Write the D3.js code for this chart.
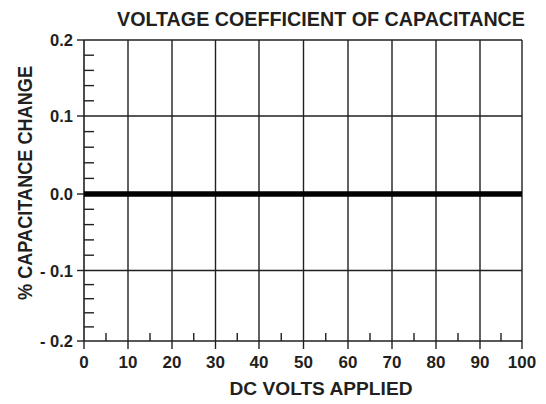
<!DOCTYPE html>
<html><head><meta charset="utf-8">
<script src="https://cdn.jsdelivr.net/npm/d3@7"></script>
<style>
html,body{margin:0;padding:0;background:#fff;}
svg{display:block;}
text{font-family:"Liberation Sans",Arial,Helvetica,sans-serif;font-weight:bold;fill:#231f20;}
</style></head>
<body>
<script>
// ---- data ----
const title = "VOLTAGE COEFFICIENT OF CAPACITANCE";
const xTitle = "DC VOLTS APPLIED";
const yTitle = "% CAPACITANCE CHANGE";
const voltage = [0, 10, 20, 30, 40, 50, 60, 70, 80, 90, 100];
const capChange = [0, 0, 0, 0, 0, 0, 0, 0, 0, 0, 0];
const xTicks = [0, 10, 20, 30, 40, 50, 60, 70, 80, 90, 100];
const xMinorTicks = [5, 15, 25, 35, 45, 55, 65, 75, 85, 95];
const yTicks = [0.2, 0.1, 0.0, -0.1, -0.2];
const yTickLabels = ["0.2", "0.1", "0.0", "- 0.1", "- 0.2"];
const yMinorTicks = [0.18,0.16,0.14,0.12,0.08,0.06,0.04,0.02,-0.02,-0.04,-0.06,-0.08,-0.12,-0.14,-0.16,-0.18];

const W = 546, H = 404;
const svg = d3.select("body").append("svg").attr("width", W).attr("height", H);
const ink = "#231f20";

const x = d3.scaleLinear()
  .domain(xTicks)
  .range([84, 128, 172, 215.5, 259, 303.5, 348, 392, 436, 480, 522]);
const y = d3.scaleLinear()
  .domain([0.2, 0.1, 0.0, -0.1, -0.2])
  .range([40, 116, 194, 270.5, 341]);

const g = svg.append("g");

// grid lines
g.selectAll(".vg").data(xTicks.filter(d => d > 0)).join("line")
  .attr("x1", d => x(d)).attr("x2", d => x(d))
  .attr("y1", y(0.2)).attr("y2", y(-0.2))
  .attr("stroke", ink).attr("stroke-width", 1.4);
g.selectAll(".hg").data(yTicks.filter(d => d > -0.2)).join("line")
  .attr("x1", x(0)).attr("x2", x(100))
  .attr("y1", d => y(d)).attr("y2", d => y(d))
  .attr("stroke", ink).attr("stroke-width", 1.4);

// axes frame
g.append("line").attr("x1", x(0)).attr("x2", x(0)).attr("y1", y(0.2)).attr("y2", y(-0.2))
  .attr("stroke", ink).attr("stroke-width", 1.6);
g.append("line").attr("x1", x(0)).attr("x2", x(100)).attr("y1", y(-0.2)).attr("y2", y(-0.2))
  .attr("stroke", ink).attr("stroke-width", 1.6);

// major ticks y (outward left)
g.selectAll(".yt").data(yTicks).join("line")
  .attr("x1", x(0) - 7).attr("x2", x(0))
  .attr("y1", d => y(d)).attr("y2", d => y(d))
  .attr("stroke", ink).attr("stroke-width", 1.4);
// minor ticks y (inward)
g.selectAll(".ymt").data(yMinorTicks).join("line")
  .attr("x1", x(0)).attr("x2", x(0) + 10)
  .attr("y1", d => y(d)).attr("y2", d => y(d))
  .attr("stroke", ink).attr("stroke-width", 1.4);
// major ticks x (outward down)
g.selectAll(".xt").data(xTicks).join("line")
  .attr("x1", d => x(d)).attr("x2", d => x(d))
  .attr("y1", y(-0.2)).attr("y2", y(-0.2) + 8)
  .attr("stroke", ink).attr("stroke-width", 1.4);
// minor ticks x (inward up)
g.selectAll(".xmt").data(xMinorTicks).join("line")
  .attr("x1", d => x(d)).attr("x2", d => x(d))
  .attr("y1", y(-0.2)).attr("y2", y(-0.2) - 8)
  .attr("stroke", ink).attr("stroke-width", 1.4);

// data line
const line = d3.line().x((d, i) => x(voltage[i])).y(d => y(d));
g.append("path").datum(capChange).attr("d", line)
  .attr("fill", "none").attr("stroke", "#000").attr("stroke-width", 5.5);

// tick labels
g.selectAll(".yl").data(yTicks).join("text")
  .attr("x", x(0) - 11).attr("y", d => y(d) + 6)
  .attr("text-anchor", "end").attr("font-size", 16.5)
  .text((d, i) => yTickLabels[i]);
g.selectAll(".xl").data(xTicks).join("text")
  .attr("x", d => x(d)).attr("y", 368)
  .attr("text-anchor", "middle").attr("font-size", 17)
  .text(d => d);

// titles
svg.append("text").attr("x", 321).attr("y", 26).attr("text-anchor", "middle")
  .attr("font-size", 20.5).attr("textLength", 408).attr("lengthAdjust", "spacingAndGlyphs")
  .text(title);
svg.append("text").attr("x", 321).attr("y", 395).attr("text-anchor", "middle")
  .attr("font-size", 18.5).attr("textLength", 183).attr("lengthAdjust", "spacingAndGlyphs")
  .text(xTitle);
svg.append("text").attr("transform", "translate(32,183) rotate(-90)")
  .attr("text-anchor", "middle").attr("font-size", 20)
  .attr("textLength", 234).attr("lengthAdjust", "spacingAndGlyphs")
  .text(yTitle);
</script>
</body></html>
